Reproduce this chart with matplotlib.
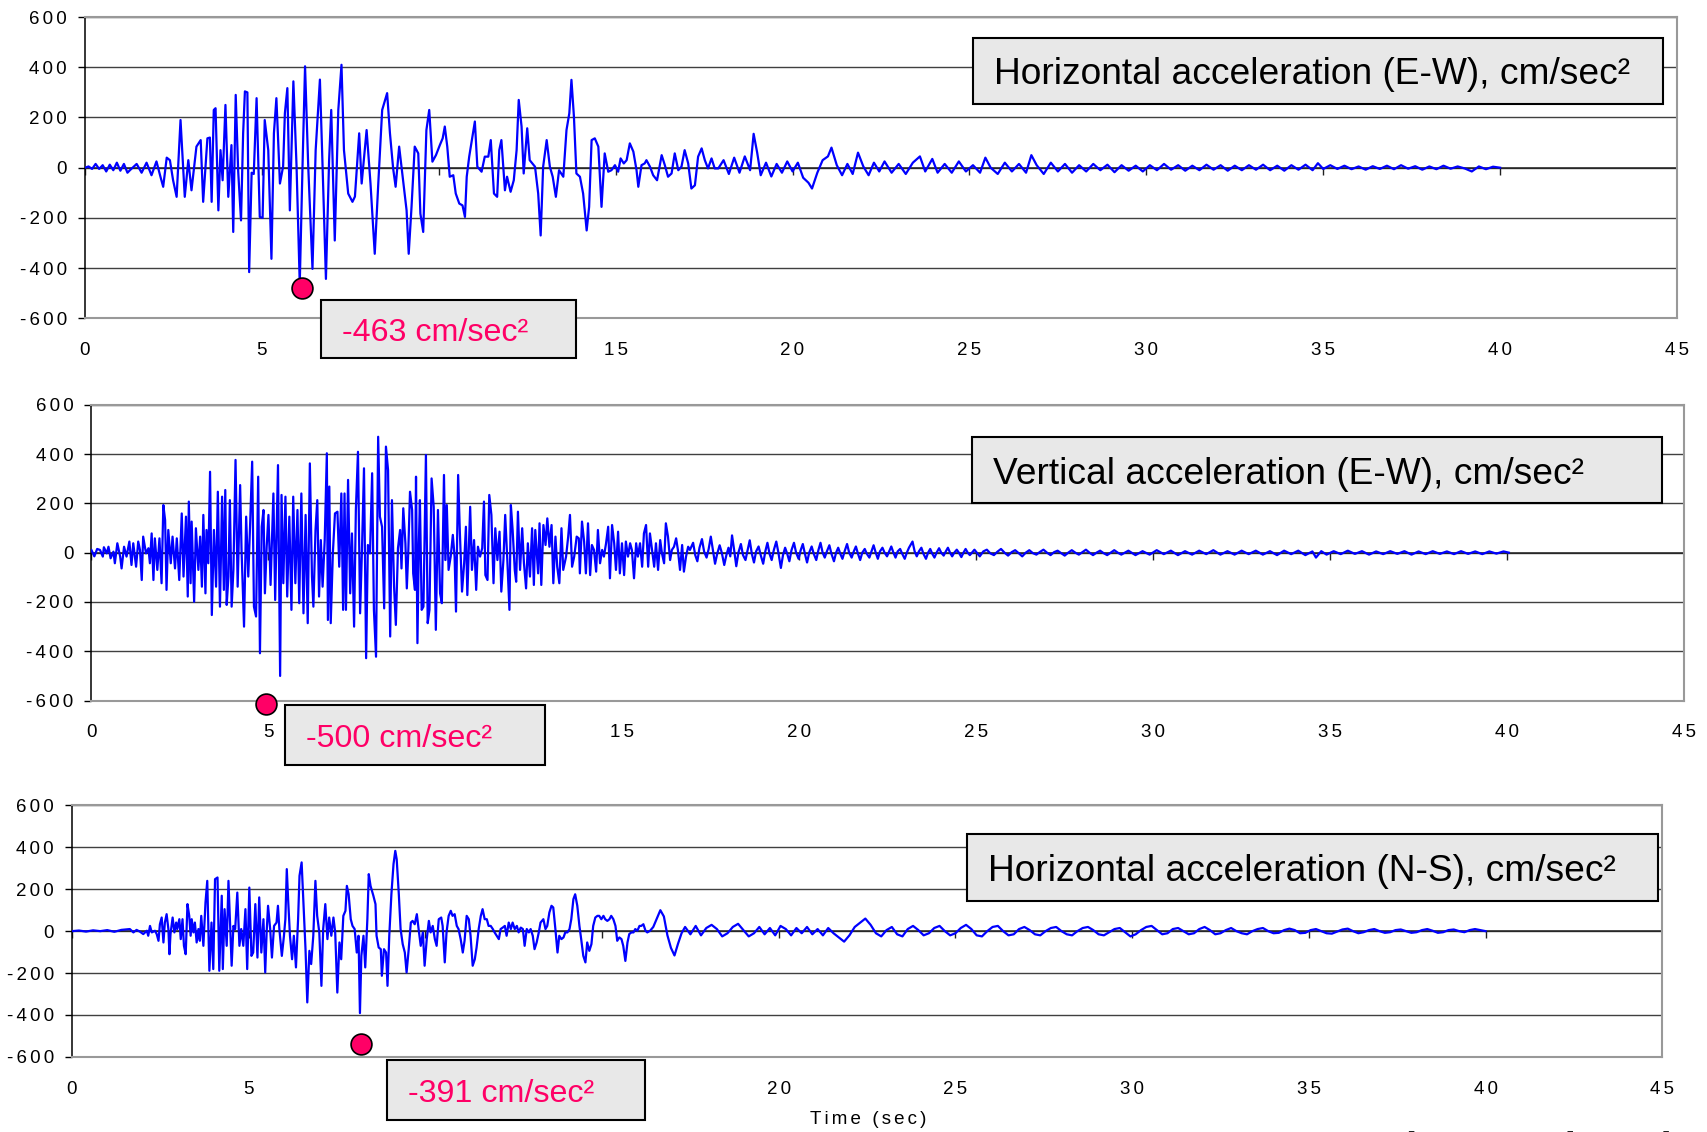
import numpy as np
import matplotlib
matplotlib.use('Agg')
import matplotlib.pyplot as plt
from matplotlib.patches import Rectangle

plt.rcParams['font.family'] = ['Liberation Sans', 'DejaVu Sans']

# ---- data: (time s, acceleration cm/s2) ----
ew_pts = [
    (0.00, 0), (0.10, 5), (0.20, -5), (0.30, 15), (0.40, -5), (0.50, 10), (0.60, -15),
    (0.70, 12), (0.80, -10), (0.90, 20), (1.00, -12), (1.10, 15), (1.20, -20),
    (1.27, -10), (1.46, 15), (1.60, -20), (1.74, 20), (1.88, -30), (2.02, 25), (2.14, -40),
    (2.21, -76), (2.31, 40), (2.40, 30), (2.49, -50), (2.59, -116), (2.70, 190), (2.82, -116),
    (2.92, 30), (3.01, -90), (3.15, 84), (3.27, 110), (3.34, -136), (3.46, 117), (3.53, 120),
    (3.58, -136), (3.64, 230), (3.69, 237), (3.77, -170), (3.83, 70), (3.89, -50), (3.97, 250),
    (4.05, -116), (4.14, 90), (4.19, -256), (4.26, 290), (4.33, -15), (4.41, -210), (4.47, 137),
    (4.52, 304), (4.59, 300), (4.64, -416), (4.71, -20), (4.77, -25), (4.85, 277), (4.94, -196),
    (5.02, -200), (5.08, 190), (5.18, 70), (5.27, -363), (5.34, 137), (5.41, 277), (5.51, -63),
    (5.60, 5), (5.65, 217), (5.72, 317), (5.79, -170), (5.89, 344), (5.98, 5), (6.07, -463),
    (6.15, 15), (6.22, 404), (6.31, 5), (6.43, -403), (6.52, 70), (6.64, 351), (6.71, 30),
    (6.81, -443), (6.90, 30), (6.96, 230), (7.06, -290), (7.16, 230), (7.25, 410), (7.32, 70),
    (7.44, -103), (7.56, -136), (7.63, -115), (7.75, 137), (7.82, -63), (7.96, 150), (8.07, -63),
    (8.19, -343), (8.29, -63), (8.40, 230), (8.54, 297), (8.62, 137), (8.71, -3), (8.78, -76),
    (8.88, 84), (8.99, -50), (9.09, -170), (9.15, -343), (9.23, -156), (9.32, 84), (9.42, 57),
    (9.48, -183), (9.56, -256), (9.65, 150), (9.73, 230), (9.82, 24), (9.92, 50), (10.03, 90),
    (10.11, 117), (10.17, 164), (10.24, 84), (10.31, -36), (10.41, -30), (10.48, -103),
    (10.58, -143), (10.67, -150), (10.74, -196), (10.79, -36), (10.86, 44), (10.95, 124),
    (11.02, 184), (11.09, 4), (11.21, -16), (11.30, 44), (11.40, 44), (11.47, 110),
    (11.56, -103), (11.65, -116), (11.71, 70), (11.77, 110), (11.87, -90), (11.93, -36),
    (12.03, -96), (12.12, -50), (12.20, 70), (12.26, 270), (12.34, 164), (12.40, -23),
    (12.50, 157), (12.57, 30), (12.72, 4), (12.81, -103), (12.88, -270), (12.95, 4),
    (13.05, 110), (13.14, 4), (13.22, -36), (13.31, -116), (13.40, -10), (13.52, -36),
    (13.61, 150), (13.69, 217), (13.75, 350), (13.82, 204), (13.89, -23), (13.99, -36),
    (14.08, -103), (14.18, -250), (14.25, -156), (14.32, 110), (14.41, 117), (14.51, 84),
    (14.60, -156), (14.69, 57), (14.79, -16), (14.88, -10), (14.98, 10), (15.07, -16),
    (15.14, 37), (15.23, 17), (15.31, 30), (15.40, 97), (15.50, 64), (15.59, -10), (15.64, -76),
    (15.73, 10), (15.82, 17), (15.87, 30), (15.97, 4), (16.06, -30), (16.17, -50), (16.30, 50),
    (16.39, 10), (16.48, -36), (16.58, -23), (16.67, 57), (16.77, -10), (16.86, 4), (16.95, 70),
    (17.05, 17), (17.14, -83), (17.24, -70), (17.33, 44), (17.43, 77), (17.52, 30), (17.61, -3),
    (17.71, 37), (17.80, -3), (17.90, -3), (18.05, 30), (18.20, -25), (18.35, 40), (18.50, -20),
    (18.65, 45), (18.80, -10), (18.90, 135), (19.00, 60), (19.10, -30), (19.25, 20), (19.40, -35),
    (19.55, 15), (19.70, -20), (19.85, 25), (20.00, -15), (20.15, 20), (20.30, -40), (20.45, -60),
    (20.55, -83), (20.70, -20), (20.85, 30), (21.00, 45), (21.10, 80), (21.25, 10), (21.40, -30),
    (21.55, 15), (21.70, -25), (21.85, 60), (22.00, 5), (22.15, -30), (22.30, 20), (22.45, -15),
    (22.60, 25), (22.80, -20), (23.00, 15), (23.20, -25), (23.40, 20), (23.60, 45), (23.75, -15),
    (23.95, 35), (24.10, -20), (24.30, 15), (24.50, -20), (24.70, 25), (24.90, -15), (25.10, 10),
    (25.30, -20), (25.45, 40), (25.60, 0), (25.80, -25), (26.00, 20), (26.20, -15), (26.40, 15),
    (26.60, -20), (26.75, 50), (26.90, 10), (27.10, -25), (27.30, 20), (27.50, -15), (27.70, 15),
    (27.90, -20), (28.10, 10), (28.30, -15), (28.50, 15), (28.70, -10), (28.90, 12), (29.10, -18),
    (29.30, 10), (29.50, -12), (29.70, 8), (29.90, -15), (30.10, 10), (30.30, -10), (30.50, 15),
    (30.70, -8), (30.90, 10), (31.10, -12), (31.30, 8), (31.50, -10), (31.70, 12), (31.90, -8),
    (32.10, 10), (32.30, -12), (32.50, 8), (32.70, -10), (32.90, 10), (33.10, -8), (33.30, 12),
    (33.50, -10), (33.70, 8), (33.90, -12), (34.10, 10), (34.30, -8), (34.50, 12), (34.70, -10),
    (34.85, 18), (35.00, -5), (35.20, 10), (35.40, -5), (35.60, 8), (35.80, -6), (36.00, 5),
    (36.20, -8), (36.40, 6), (36.60, -5), (36.80, 8), (37.00, -6), (37.20, 10), (37.40, -4),
    (37.60, 6), (37.80, -8), (38.00, 5), (38.20, -6), (38.40, 8), (38.60, -4), (38.80, 5),
    (39.00, -3), (39.20, -15), (39.40, 5), (39.60, -6), (39.80, 4), (40.00, 0),
]

vert_pts = [
    (0.00, 10), (0.08, -15), (0.16, 15), (0.24, 11), (0.32, -16), (0.35, 22), (0.43, -3),
    (0.48, 24), (0.54, -23), (0.62, 4), (0.66, -43), (0.73, 38), (0.81, -16), (0.85, -64),
    (0.92, 24), (0.99, -16), (1.07, 45), (1.13, -50), (1.18, 38), (1.26, -57), (1.32, 45),
    (1.37, 11), (1.42, -111), (1.46, 65), (1.54, -3), (1.61, 18), (1.65, -43), (1.70, 78),
    (1.75, -111), (1.79, 58), (1.86, -70), (1.92, 58), (1.98, -124), (2.03, 193), (2.08, 132),
    (2.12, -151), (2.17, 92), (2.24, -43), (2.29, 65), (2.36, -64), (2.41, 58), (2.48, -111),
    (2.55, 159), (2.60, -97), (2.67, 146), (2.72, -178), (2.75, 207), (2.80, -124), (2.83, 126),
    (2.90, -199), (2.95, 99), (3.02, -70), (3.07, 65), (3.12, -138), (3.16, 153), (3.22, -165),
    (3.25, 92), (3.30, -43), (3.35, 328), (3.40, -253), (3.46, 92), (3.52, -138), (3.57, 247),
    (3.63, -219), (3.69, 227), (3.74, -151), (3.78, 254), (3.82, -212), (3.87, -97), (3.91, 213),
    (3.96, -219), (4.01, -70), (4.07, 376), (4.13, -138), (4.20, 274), (4.24, 11), (4.31, -300),
    (4.37, 146), (4.43, -97), (4.48, 105), (4.54, 369), (4.59, -219), (4.65, -259), (4.71, 308),
    (4.76, -408), (4.81, 105), (4.86, 173), (4.90, -165), (4.95, 24), (5.00, 153), (5.06, -131),
    (5.14, 240), (5.19, -192), (5.27, 355), (5.33, -500), (5.37, 234), (5.42, -124), (5.48, 227),
    (5.53, -178), (5.59, 146), (5.65, -232), (5.70, 227), (5.76, -124), (5.82, 173), (5.87, -205),
    (5.93, 240), (5.99, -246), (6.05, 153), (6.11, -286), (6.17, 362), (6.23, -97), (6.27, -219),
    (6.33, 92), (6.38, 213), (6.43, -178), (6.48, 51), (6.53, -138), (6.59, 51), (6.65, 403),
    (6.68, -273), (6.72, 268), (6.76, -286), (6.82, -3), (6.88, 159), (6.95, 166), (7.00, -57),
    (7.06, 240), (7.11, -232), (7.15, 240), (7.19, -232), (7.25, 295), (7.31, -165), (7.36, 78),
    (7.42, -300), (7.47, 173), (7.53, 409), (7.59, -246), (7.64, -3), (7.70, 342), (7.76, -428),
    (7.81, 31), (7.87, -3), (7.93, 322), (7.98, -232), (8.04, -422), (8.10, 470), (8.15, 146),
    (8.21, 105), (8.27, -226), (8.32, 430), (8.38, 335), (8.44, -340), (8.49, 213), (8.55, -138),
    (8.60, -293), (8.66, 18), (8.72, 92), (8.76, -64), (8.81, 180), (8.87, 38), (8.91, -145),
    (8.95, -3), (9.00, 247), (9.06, 173), (9.09, -84), (9.14, -151), (9.17, 308), (9.21, -367),
    (9.25, 38), (9.28, 213), (9.33, -232), (9.38, -219), (9.42, 132), (9.45, 396), (9.50, -286),
    (9.55, -232), (9.61, 301), (9.67, 186), (9.73, -313), (9.79, 173), (9.85, -165), (9.90, -205),
    (9.96, 315), (10.00, -30), (10.04, 193), (10.09, -70), (10.15, -16), (10.21, 72), (10.26, -16),
    (10.30, -239), (10.36, 315), (10.41, 78), (10.47, -158), (10.53, -43), (10.58, 105),
    (10.62, -172), (10.66, 11), (10.70, 186), (10.75, -70), (10.81, 51), (10.87, -151),
    (10.92, 24), (10.98, -16), (11.04, 18), (11.09, 207), (11.13, -91), (11.19, -111),
    (11.24, 234), (11.30, 153), (11.36, -124), (11.41, 99), (11.47, -30), (11.53, 85),
    (11.58, -158), (11.64, -30), (11.69, 153), (11.75, -30), (11.81, -232), (11.85, 193),
    (11.90, 92), (11.96, -70), (12.00, -118), (12.05, 166), (12.11, -70), (12.17, 99),
    (12.22, -43), (12.28, -145), (12.33, 38), (12.39, -97), (12.45, 99), (12.50, -131),
    (12.54, 92), (12.62, -84), (12.66, 119), (12.71, -131), (12.77, 112), (12.83, 31),
    (12.88, 139), (12.94, 24), (13.00, 112), (13.05, -124), (13.11, 65), (13.16, -57),
    (13.22, -124), (13.28, 99), (13.33, -70), (13.41, -16), (13.47, 65), (13.52, 153),
    (13.58, -57), (13.64, -16), (13.71, 65), (13.77, 58), (13.80, -84), (13.86, 126),
    (13.92, 45), (13.97, -84), (14.03, 119), (14.09, -91), (14.14, 31), (14.20, 11),
    (14.26, -77), (14.31, 92), (14.37, -43), (14.43, 11), (14.48, -16), (14.54, 38),
    (14.60, 105), (14.65, -104), (14.71, 112), (14.77, 38), (14.82, -70), (14.88, 85),
    (14.93, -84), (14.99, 38), (15.05, -91), (15.10, 45), (15.16, -16), (15.22, 38),
    (15.27, 11), (15.33, -104), (15.39, 38), (15.44, -16), (15.50, 38), (15.56, -57),
    (15.61, 78), (15.67, 112), (15.73, -57), (15.78, 78), (15.84, 11), (15.90, -57),
    (15.95, 38), (16.01, -70), (16.07, 51), (16.12, -3), (16.18, -43), (16.23, 119),
    (16.29, 65), (16.35, -30), (16.40, 11), (16.46, 24), (16.52, 58), (16.57, 11),
    (16.63, -70), (16.69, 31), (16.74, -77), (16.80, -16), (16.86, 24), (16.91, 11),
    (17.00, 40), (17.06, -10), (17.12, -35), (17.18, 20), (17.25, 55), (17.31, 5), (17.38, -20),
    (17.44, 15), (17.50, 65), (17.56, 10), (17.62, -45), (17.68, -5), (17.75, 30), (17.81, 0),
    (17.88, -50), (17.94, -10), (18.00, 20), (18.05, -15), (18.10, 70), (18.16, 10), (18.22, -55),
    (18.28, 0), (18.35, 35), (18.41, -10), (18.48, -30), (18.54, 10), (18.60, 50), (18.66, -5),
    (18.72, -40), (18.78, 5), (18.85, 25), (18.91, -10), (18.98, -45), (19.04, 5), (19.10, 40),
    (19.16, -5), (19.22, -30), (19.28, 10), (19.35, 45), (19.41, 0), (19.48, -62), (19.54, -10),
    (19.60, 20), (19.66, -5), (19.72, -35), (19.78, 10), (19.85, 40), (19.91, 0), (19.98, -25),
    (20.04, 10), (20.10, 35), (20.16, -5), (20.22, -40), (20.28, 0), (20.35, 25), (20.41, -5),
    (20.48, -30), (20.54, 10), (20.60, 40), (20.66, 0), (20.72, -20), (20.78, 5), (20.85, 30),
    (20.91, -5), (20.98, -35), (21.04, 0), (21.10, 20), (21.16, -5), (21.22, -25), (21.28, 5),
    (21.35, 35), (21.41, 0), (21.48, -20), (21.54, 5), (21.60, 25), (21.66, -5), (21.72, -30),
    (21.78, 0), (21.85, 15), (21.91, -5), (21.98, -20), (22.04, 5), (22.10, 30), (22.16, 0),
    (22.22, -25), (22.28, 5), (22.35, 20), (22.41, 0), (22.48, -15), (22.54, 5), (22.60, 25),
    (22.66, 0), (22.72, -20), (22.78, 5), (22.85, 15), (22.91, -5), (22.98, -25), (23.04, 0),
    (23.10, 20), (23.20, 45), (23.26, 5), (23.32, -15), (23.38, 5), (23.45, 20), (23.51, -5),
    (23.58, -25), (23.64, 0), (23.70, 15), (23.76, -5), (23.82, -20), (23.88, 0), (23.95, 18),
    (24.01, 0), (24.08, -12), (24.14, 5), (24.20, 20), (24.26, 0), (24.32, -15), (24.38, 0),
    (24.45, 12), (24.51, 0), (24.58, -18), (24.64, 0), (24.70, 15), (24.76, 0), (24.82, -10),
    (24.88, 0), (24.95, 12), (25.10, -15), (25.20, 5), (25.30, 12), (25.40, -3), (25.50, -10),
    (25.60, 4), (25.70, 15), (25.80, 0), (25.90, -12), (26.00, 2), (26.10, 10), (26.20, -2),
    (26.30, -15), (26.40, 0), (26.50, 10), (26.60, -2), (26.70, -8), (26.80, 3), (26.90, 12),
    (27.00, 0), (27.10, -10), (27.20, 2), (27.30, 8), (27.40, -2), (27.50, -12), (27.60, 0),
    (27.70, 10), (27.80, 0), (27.90, -8), (28.00, 2), (28.10, 12), (28.20, 0), (28.30, -10),
    (28.40, 0), (28.50, 8), (28.60, -2), (28.70, -10), (28.80, 0), (28.90, 10), (29.00, 0),
    (29.10, -8), (29.30, 8), (29.50, -10), (29.70, 6), (29.90, -8), (30.10, 10),
    (30.30, -6), (30.50, 8), (30.70, -10), (30.90, 6), (31.10, -8), (31.30, 8), (31.50, -6),
    (31.70, 10), (31.90, -8), (32.10, 6), (32.30, -8), (32.50, 8), (32.70, -6), (32.90, 8),
    (33.10, -8), (33.30, 6), (33.50, -10), (33.70, 8), (33.90, -6), (34.10, 8), (34.30, -10),
    (34.50, 5), (34.60, -20), (34.75, 6), (34.90, -8), (35.10, 6), (35.30, -6), (35.50, 8),
    (35.70, -5), (35.90, 6), (36.10, -8), (36.30, 5), (36.50, -6), (36.70, 6), (36.90, -5),
    (37.10, 6), (37.30, -8), (37.50, 5), (37.70, -6), (37.90, 6), (38.10, -5), (38.30, 5),
    (38.50, -6), (38.70, 6), (38.90, -5), (39.10, 5), (39.30, -6), (39.50, 5), (39.70, -4),
    (39.90, 5), (40.05, 0),
]

ns_pts = [
    (0.00, 0), (0.20, 3), (0.40, -2), (0.60, 4), (0.80, 0), (1.00, 5), (1.20, -3), (1.40, 6),
    (1.64, 10), (1.74, -6), (1.83, 6), (1.93, -3), (2.02, -14), (2.12, 2), (2.16, -22), (2.21, 25),
    (2.26, -6), (2.35, 2), (2.40, -14), (2.45, -46), (2.49, 33), (2.54, 65), (2.59, -54),
    (2.63, 41), (2.68, 81), (2.73, 10), (2.76, -110), (2.79, -14), (2.85, 65), (2.90, -6),
    (2.95, 41), (2.98, 10), (3.04, 57), (3.08, -38), (3.13, 57), (3.17, -70), (3.22, -110),
    (3.27, 129), (3.32, 73), (3.36, -22), (3.39, 57), (3.44, -6), (3.48, 41), (3.53, -54),
    (3.58, 10), (3.62, -46), (3.66, 73), (3.72, -70), (3.78, 137), (3.83, 240), (3.89, -189),
    (3.95, 41), (4.00, -181), (4.05, 248), (4.12, 256), (4.17, -189), (4.24, 169), (4.27, -181),
    (4.32, 105), (4.38, -70), (4.43, 240), (4.47, 57), (4.52, -165), (4.57, 25), (4.62, 10),
    (4.68, 184), (4.74, -70), (4.79, 10), (4.85, -70), (4.91, 105), (4.96, -181), (5.02, 208),
    (5.08, -118), (5.13, -102), (5.19, 129), (5.25, -126), (5.30, 161), (5.36, -102), (5.42, 57),
    (5.47, -197), (5.51, -6), (5.55, 121), (5.61, 10), (5.66, -126), (5.72, 25), (5.79, 41),
    (5.83, 121), (5.87, 10), (5.94, -118), (6.00, -22), (6.04, 57), (6.08, 296), (6.12, 145),
    (6.17, -22), (6.23, -134), (6.28, -22), (6.34, -173), (6.40, 57), (6.44, 264), (6.50, 328),
    (6.55, 137), (6.61, -86), (6.66, -340), (6.72, -94), (6.77, -157), (6.83, -22), (6.89, 240),
    (6.94, 73), (7.00, -6), (7.06, -261), (7.11, 10), (7.17, 129), (7.23, -38), (7.28, 65),
    (7.34, -22), (7.40, 65), (7.45, -6), (7.51, -293), (7.57, -54), (7.62, -134), (7.68, 73),
    (7.74, 97), (7.78, 216), (7.83, 176), (7.89, 57), (7.94, 25), (8.00, 10), (8.06, -102),
    (8.11, -22), (8.15, -391), (8.19, -118), (8.25, -22), (8.30, -173), (8.36, 57), (8.40, 272),
    (8.45, 216), (8.53, 169), (8.59, 129), (8.62, -22), (8.68, -78), (8.74, -86), (8.77, -213),
    (8.83, -86), (8.89, -102), (8.93, -261), (8.98, -22), (9.04, 176), (9.10, 320), (9.15, 383),
    (9.19, 343), (9.25, 176), (9.30, 10), (9.36, -62), (9.42, -102), (9.47, -197), (9.53, -86),
    (9.59, 41), (9.64, 49), (9.70, 33), (9.76, 81), (9.81, 10), (9.87, -70), (9.93, -6),
    (9.98, -165), (10.04, -38), (10.10, 49), (10.15, -6), (10.21, 25), (10.27, -38), (10.32, -70),
    (10.38, 57), (10.45, 65), (10.49, 25), (10.55, -149), (10.60, -6), (10.66, 73), (10.72, 97),
    (10.77, 73), (10.83, 81), (10.89, 25), (10.94, 10), (11.00, -38), (11.06, -102), (11.11, -46),
    (11.17, 73), (11.23, 57), (11.28, -22), (11.34, -165), (11.40, -134), (11.45, -78),
    (11.51, 10), (11.57, 73), (11.62, 105), (11.68, 57), (11.74, 57), (11.79, 25), (11.85, 25),
    (11.91, 10), (11.96, -6), (12.02, -22), (12.08, -38), (12.13, 10), (12.19, 17), (12.25, 25),
    (12.30, -22), (12.36, 41), (12.42, 10), (12.47, 41), (12.53, 10), (12.59, 25), (12.64, -6),
    (12.70, 17), (12.76, 10), (12.81, -70), (12.87, 10), (12.93, -6), (12.98, 10), (13.04, -22),
    (13.09, -86), (13.15, -54), (13.21, -6), (13.26, 41), (13.34, 57), (13.40, 10), (13.45, 25),
    (13.51, 89), (13.57, 121), (13.62, 113), (13.68, 10), (13.74, -102), (13.79, -22),
    (13.85, -38), (13.91, -30), (13.96, -6), (14.02, -6), (14.08, 10), (14.13, 57), (14.19, 153),
    (14.24, 176), (14.30, 121), (14.36, 25), (14.41, -38), (14.47, -118), (14.53, -149),
    (14.58, -54), (14.64, -94), (14.70, -62), (14.75, 25), (14.81, 65), (14.87, 73), (14.92, 73),
    (14.98, 57), (15.04, 73), (15.09, 57), (15.15, 49), (15.21, 57), (15.26, 73), (15.32, 57),
    (15.38, 25), (15.43, -46), (15.49, -30), (15.55, -38), (15.60, -70), (15.66, -142),
    (15.72, -54), (15.77, -14), (15.83, -6), (15.89, -6), (15.94, 10), (16.00, 2), (16.06, 25),
    (16.11, 25), (16.17, 33), (16.23, 2), (16.28, -6), (16.36, 2),
    (16.45, 20), (16.55, 60), (16.65, 100), (16.75, 70), (16.85, -20), (16.95, -80), (17.05, -116),
    (17.15, -60), (17.25, -10), (17.35, 20), (17.50, -15), (17.65, 25), (17.80, -20), (17.95, 15),
    (18.10, 30), (18.25, 10), (18.40, -25), (18.55, -10), (18.70, 20), (18.85, 35), (19.00, 5),
    (19.15, -25), (19.30, -10), (19.45, 20), (19.60, -15), (19.75, 15), (19.90, -20), (20.05, 25),
    (20.20, 10), (20.35, -20), (20.50, 15), (20.65, -10), (20.80, 20), (20.95, -15), (21.10, 10),
    (21.25, -20), (21.40, 15), (21.55, -10), (21.70, -30), (21.85, -50), (22.00, -20), (22.15, 20),
    (22.30, 40), (22.45, 60), (22.60, 30), (22.75, -10), (22.90, -25), (23.05, 5), (23.20, 20),
    (23.35, -15), (23.50, -25), (23.65, 10), (23.80, 25), (23.95, 5), (24.10, -20), (24.25, -10),
    (24.40, 15), (24.55, 25), (24.70, 0), (24.85, -20), (25.00, -10), (25.15, 15), (25.30, 30),
    (25.45, 10), (25.60, -20), (25.75, -25), (25.90, 0), (26.05, 20), (26.20, 25), (26.35, 0),
    (26.50, -20), (26.65, -15), (26.80, 10), (26.95, 20), (27.10, 5), (27.25, -15), (27.40, -20),
    (27.55, 0), (27.70, 15), (27.85, 20), (28.00, 0), (28.15, -15), (28.30, -20), (28.45, 0),
    (28.60, 15), (28.75, 20), (28.90, 5), (29.05, -15), (29.20, -20), (29.35, -5), (29.50, 10),
    (29.65, 15), (29.80, -5), (29.95, -25), (30.10, -15), (30.25, 5), (30.40, 20), (30.55, 25),
    (30.70, 5), (30.85, -15), (31.00, -10), (31.15, 10), (31.30, 15), (31.45, 0), (31.60, -15),
    (31.75, -10), (31.90, 10), (32.05, 20), (32.20, 5), (32.35, -15), (32.50, -10), (32.65, 5),
    (32.80, 15), (32.95, 0), (33.10, -10), (33.25, -15), (33.40, 0), (33.55, 10), (33.70, 15),
    (33.85, 0), (34.00, -10), (34.15, -8), (34.30, 5), (34.45, 12), (34.60, 5), (34.75, -10),
    (34.90, -8), (35.05, 5), (35.20, 10), (35.35, 0), (35.50, -10), (35.65, -12), (35.80, -2),
    (35.95, 8), (36.10, 12), (36.25, 0), (36.40, -10), (36.55, -5), (36.70, 5), (36.85, 10),
    (37.00, 0), (37.15, -8), (37.30, -5), (37.45, 5), (37.60, 8), (37.75, 0), (37.90, -8),
    (38.05, -5), (38.20, 5), (38.35, 10), (38.50, 2), (38.65, -8), (38.80, -5), (38.95, 5),
    (39.10, 8), (39.25, 0), (39.40, -5), (39.55, 5), (39.70, 10), (39.85, 5), (40.00, 0),
]

titles = ["Horizontal acceleration (E-W), cm/sec\u00b2",
          "Vertical acceleration (E-W), cm/sec\u00b2",
          "Horizontal acceleration (N-S), cm/sec\u00b2"]
peak_labels = ["-463 cm/sec\u00b2", "-500 cm/sec\u00b2", "-391 cm/sec\u00b2"]
dot_t = [6.12, 4.92, 8.17]
dot_a = [-481, -612, -540]

x_ticks = [0, 5, 10, 15, 20, 25, 30, 35, 40, 45]
y_ticks = [-600, -400, -200, 0, 200, 400, 600]
# x labels that sit under the peak boxes in the original
hidden_x = [[10], [10], [10, 15]]

W, H = 1708, 1132


def fx(px):
    return px / W


def fy(py):
    return 1 - py / H


def spaced(s):
    # Excel-style loose letter spacing
    return '\u2006'.join(s)


fig = plt.figure(figsize=(W / 100, H / 100), dpi=100)

# axes frames in pixels: left, top, right, bottom
frames = [(85, 17.1, 1677, 318.3), (91.5, 404.7, 1684, 700.6), (71.9, 805.4, 1662.3, 1056.9)]
title_boxes = [(973, 38, 1663, 103.5), (971.6, 436.8, 1662.2, 503.3), (967.3, 834.4, 1657.9, 900.9)]
peak_boxes = [(321.3, 299.6, 576.2, 358.4), (285.4, 704.8, 544.6, 764.7), (386.7, 1059.9, 644.9, 1119.8)]
traces = [ew_pts, vert_pts, ns_pts]

for i in range(3):
    l, t, r, b = frames[i]
    ax = fig.add_axes([fx(l), fy(b), fx(r) - fx(l), fy(t) - fy(b)])
    tt, aa = np.array(traces[i]).T
    ax.plot(tt, aa, color='#0000ff', lw=1.6, zorder=3)
    ax.set_xlim(0, 45)
    ax.set_ylim(-600, 600)

    ax.set_yticks(y_ticks)
    ax.set_yticklabels([spaced(str(v)) for v in y_ticks])
    ax.yaxis.grid(True, color='#404040', lw=1)
    ax.set_axisbelow(True)
    ax.axhline(0, color='#202020', lw=1.1, zorder=2)
    # small tick marks sitting on the zero line
    ax.plot(x_ticks, np.zeros(len(x_ticks)), ls='none', marker=3, ms=5,
            mew=1, color='#202020', zorder=2)

    ax.set_xticks(x_ticks)
    ax.set_xticklabels(['' if v in hidden_x[i] else spaced(str(v)) for v in x_ticks])
    ax.tick_params(axis='x', length=0, pad=17, labelsize=13.5)
    ax.tick_params(axis='y', length=5, width=1, pad=8, labelsize=13.5, color='black')

    for side in ['top', 'right', 'bottom']:
        ax.spines[side].set_color('#999999')
        ax.spines[side].set_linewidth(1.5)
    ax.spines['left'].set_color('black')
    ax.spines['left'].set_linewidth(1.1)

    ax.plot([dot_t[i]], [dot_a[i]], marker='o', ms=15, mfc='#ff0066', mec='black',
            mew=1.2, clip_on=False, zorder=10)

    # title box
    x0, y0, x1, y1 = title_boxes[i]
    fig.add_artist(Rectangle((fx(x0), fy(y1)), fx(x1) - fx(x0), fy(y0) - fy(y1),
                             transform=fig.transFigure, facecolor='#e8e8e8',
                             edgecolor='black', lw=1.5, zorder=5))
    fig.text(fx(x0 + 21), fy((y0 + y1) / 2 + 4), titles[i], fontsize=26.7,
             ha='left', va='center', color='black', zorder=6)

    # peak value box
    x0, y0, x1, y1 = peak_boxes[i]
    fig.add_artist(Rectangle((fx(x0), fy(y1)), fx(x1) - fx(x0), fy(y0) - fy(y1),
                             transform=fig.transFigure, facecolor='#e8e8e8',
                             edgecolor='black', lw=1.5, zorder=5))
    fig.text(fx(x0 + 21), fy((y0 + y1) / 2 + 4), peak_labels[i], fontsize=23.2,
             ha='left', va='center', color='#ff0066', zorder=6)

fig.text(fx(868), fy(1120), spaced("Time (sec)"), fontsize=13.5, ha='center', va='center')
# caption running off the bottom edge, only the tops of its letters show
fig.text(fx(1245), fy(1131), "Loma Prieta Earthquake", fontsize=29, weight='bold',
         ha='left', va='top', color='#222222')

fig.savefig('out.png', dpi=100)
